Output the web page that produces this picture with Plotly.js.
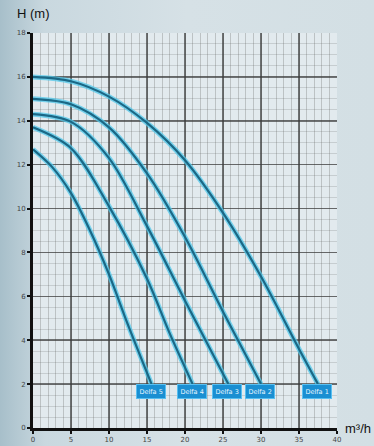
<!DOCTYPE html>
<html>
<head>
<meta charset="utf-8">
<script src="https://cdn.plot.ly/plotly-3.0.1.min.js"></script>
<style>
html,body{margin:0;padding:0;width:374px;height:446px;overflow:hidden;}
body{background:linear-gradient(90deg,#a7bfca 0%,#c9d8df 12%,#d6e1e6 50%,#d3dfe4 100%);}
#chart{width:374px;height:446px;}
</style>
</head>
<body>
<div id="chart"></div>
<script>
// Pump curves: flow Q (m3/h) and head H (m)
const pumpLabels = ["Delfa 5", "Delfa 4", "Delfa 3", "Delfa 2", "Delfa 1"];
const flow1 = [0, 5, 10, 15, 20, 25, 30, 35, 37.5];
const head1 = [16, 15.8, 15.1, 13.9, 12.2, 9.8, 6.9, 3.6, 2];
const flow2 = [0, 5, 10, 15, 20, 25, 30];
const head2 = [15, 14.75, 13.7, 11.6, 8.7, 5.3, 2];
const flow3 = [0, 5, 10, 15, 20, 25.7];
const head3 = [14.3, 13.95, 12.3, 9.2, 5.8, 2];
const flow4 = [0, 5, 10, 15, 18, 21];
const head4 = [13.7, 12.75, 10.1, 6.8, 4.3, 2];
const flow5 = [0, 2.5, 5, 7.5, 10, 12.5, 15.6];
const head5 = [12.7, 11.9, 10.7, 9.0, 7.0, 4.7, 2];
const xTicks = [0, 5, 10, 15, 20, 25, 30, 35, 40];
const yTicks = [0, 2, 4, 6, 8, 10, 12, 14, 16, 18];

const series = [[flow1, head1], [flow2, head2], [flow3, head3], [flow4, head4], [flow5, head5]];
const traces = [];
series.forEach(function (s) {
  traces.push({x: s[0], y: s[1], mode: 'lines', line: {shape: 'spline', smoothing: 0.9, color: 'rgba(80,200,235,0.75)', width: 5}, hoverinfo: 'skip', showlegend: false});
});
series.forEach(function (s) {
  traces.push({x: s[0], y: s[1], mode: 'lines', line: {shape: 'spline', smoothing: 0.9, color: '#1b6886', width: 2.2}, showlegend: false});
});

const annotations = series.map(function (s, i) {
  return {
    x: s[0][s[0].length - 1], y: s[1][s[1].length - 1], xref: 'x', yref: 'y',
    text: pumpLabels[4 - i], showarrow: false, yshift: -7, xshift: -1,
    font: {family: 'DejaVu Sans', size: 6.5, color: '#e8f6ff'},
    bgcolor: '#1a8fd2', bordercolor: '#58bff0', borderwidth: 1, borderpad: 2.5
  };
});
annotations.push({xref: 'paper', yref: 'paper', x: -0.06, y: 1.025, xanchor: 'left', yanchor: 'bottom', text: 'H (m)', showarrow: false, font: {family: 'Liberation Sans', size: 13, color: '#111'}});
annotations.push({xref: 'paper', yref: 'paper', x: 1.02, y: 0, xanchor: 'left', yanchor: 'middle', text: 'm³/h', showarrow: false, font: {family: 'Liberation Sans', size: 13, color: '#111'}});

const layout = {
  width: 374, height: 446,
  margin: {l: 33, r: 37, t: 33, b: 18},
  paper_bgcolor: 'rgba(0,0,0,0)',
  plot_bgcolor: '#e2eaee',
  showlegend: false,
  xaxis: {
    range: [0, 40], tickvals: xTicks, ticktext: xTicks.map(String),
    showgrid: true, gridcolor: 'rgba(60,60,60,0.7)', gridwidth: 1.5,
    minor: {dtick: 1, showgrid: true, gridcolor: 'rgba(90,90,90,0.28)', gridwidth: 1},
    showline: true, linecolor: '#111', linewidth: 3, zeroline: false,
    ticks: 'outside', ticklen: 3, tickwidth: 2, tickcolor: '#111',
    tickfont: {family: 'DejaVu Sans', size: 7, color: '#444'}
  },
  yaxis: {
    range: [0, 18], tickvals: yTicks, ticktext: yTicks.map(String),
    showgrid: true, gridcolor: 'rgba(60,60,60,0.7)', gridwidth: 1.5,
    minor: {dtick: 0.5, showgrid: true, gridcolor: 'rgba(90,90,90,0.2)', gridwidth: 1},
    showline: true, linecolor: '#111', linewidth: 3, zeroline: false,
    ticks: 'outside', ticklen: 3, tickwidth: 2, tickcolor: '#111',
    tickfont: {family: 'DejaVu Sans', size: 7, color: '#444'}
  },
  annotations: annotations
};
Plotly.newPlot('chart', traces, layout, {displayModeBar: false, staticPlot: true});
</script>
</body>
</html>
